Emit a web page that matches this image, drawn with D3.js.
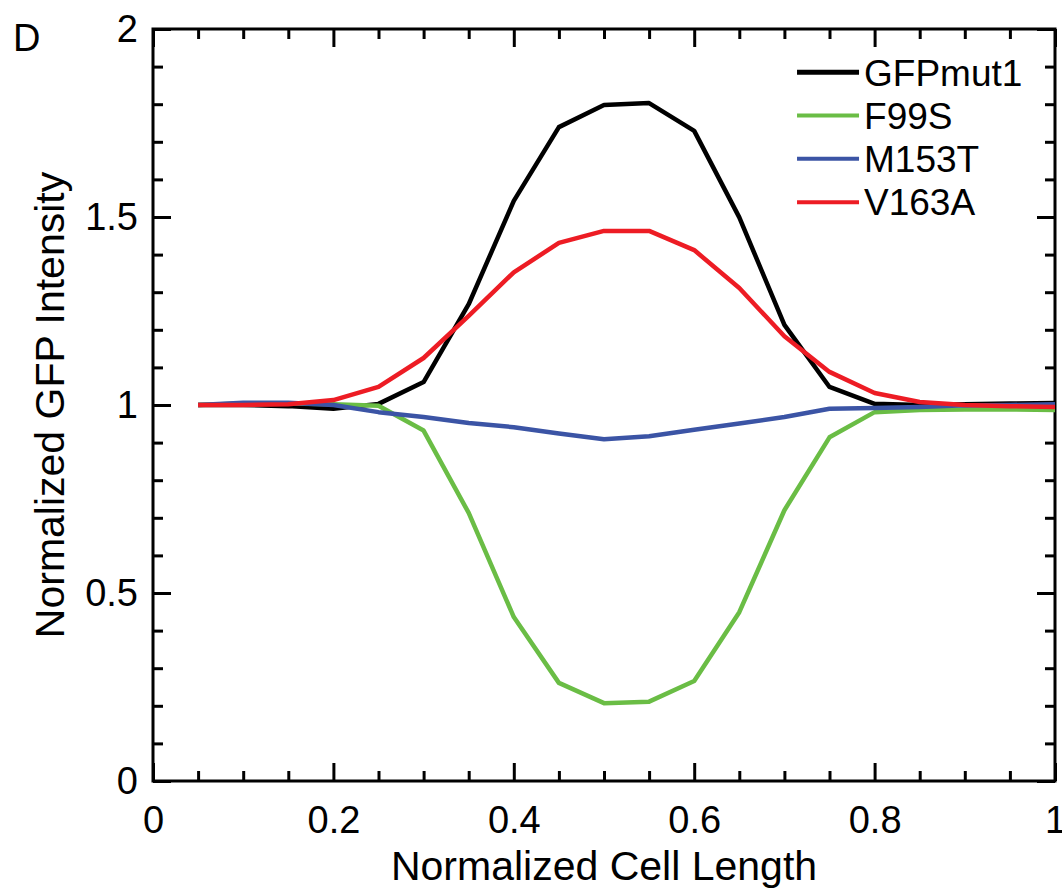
<!DOCTYPE html>
<html>
<head>
<meta charset="utf-8">
<script src="https://cdn.jsdelivr.net/npm/d3@7"></script>
<style>
  body { margin: 0; background: #fff; }
  svg { display: block; font-family: "Liberation Sans", Arial, sans-serif; }
</style>
</head>
<body>
<div id="chart"></div>
<script>
// positions along the cell (0.05 steps)
var cellPos = [0.05, 0.1, 0.15, 0.2, 0.25, 0.3, 0.35, 0.4, 0.45, 0.5,
               0.55, 0.6, 0.65, 0.7, 0.75, 0.8, 0.85, 0.9, 0.95, 1.0]

var gfpmut1 = [1.0, 1.0, 0.997, 0.99, 1.003, 1.061, 1.268, 1.543, 1.739, 1.798,
               1.803, 1.729, 1.499, 1.213, 1.048, 1.003, 1.0, 1.002, 1.004, 1.005]
var f99s    = [1.0, 1.004, 1.004, 1.002, 0.998, 0.932, 0.713, 0.436, 0.261, 0.207,
               0.211, 0.266, 0.449, 0.72, 0.914, 0.981, 0.987, 0.988, 0.988, 0.987]
var m153t   = [1.0, 1.006, 1.006, 1.0, 0.981, 0.968, 0.952, 0.941, 0.924, 0.909,
               0.917, 0.934, 0.951, 0.968, 0.99, 0.992, 0.995, 0.999, 1.0, 1.002]
var v163a   = [1.0, 1.0, 1.002, 1.013, 1.048, 1.125, 1.237, 1.353, 1.431, 1.463,
               1.463, 1.412, 1.311, 1.183, 1.088, 1.032, 1.008, 1.0, 0.997, 0.995]

var seriesNames  = ["GFPmut1", "F99S", "M153T", "V163A"]
var seriesColors = ["#000000", "#6abd45", "#3b54a5", "#ed1c24"]
var seriesValues = [gfpmut1, f99s, m153t, v163a]

var xMajor = [0, 0.2, 0.4, 0.6, 0.8, 1]
var yMajor = [0, 0.5, 1, 1.5, 2]

var svgWidth = 1062, svgHeight = 892
var margin = { top: 29, right: 7, bottom: 111, left: 153 }
var width = svgWidth - margin.left - margin.right
var height = svgHeight - margin.top - margin.bottom

var svg = d3.select("#chart").append("svg")
    .attr("width", svgWidth)
    .attr("height", svgHeight)

var chart = svg.append("g")
    .attr("transform", "translate(" + margin.left + "," + margin.top + ")")

var x = d3.scaleLinear().domain([0, 1]).range([0, width])
var y = d3.scaleLinear().domain([0, 2]).range([height, 0])

var xMinor = d3.range(0, 1.0001, 0.05).filter(function(v) { return Math.abs(v * 5 - Math.round(v * 5)) > 1e-6 })
var yMinor = d3.range(0, 2.0001, 0.1).filter(function(v) { return Math.abs(v * 2 - Math.round(v * 2)) > 1e-6 })

var fmt = function(d) { return d3.format("")(+d.toFixed(2)) }

function styleAxis(g, axis, labels) {
    g.call(axis)
    g.select(".domain").remove()
    g.selectAll("line").attr("stroke", "#000").attr("stroke-width", 3)
    if (labels) {
        g.selectAll("text").attr("fill", "#000").style("font-size", "38px")
    } else {
        g.selectAll("text").remove()
    }
}

// bottom
chart.append("g").attr("transform", "translate(0," + height + ")")
    .call(function(g) { styleAxis(g, d3.axisBottom(x).tickValues(xMajor).tickSizeInner(-18).tickSizeOuter(0).tickPadding(25).tickFormat(fmt), true) })
chart.append("g").attr("transform", "translate(0," + height + ")")
    .call(function(g) { styleAxis(g, d3.axisBottom(x).tickValues(xMinor).tickSizeInner(-10).tickSizeOuter(0), false) })
// top
chart.append("g")
    .call(function(g) { styleAxis(g, d3.axisTop(x).tickValues(xMajor).tickSizeInner(-18).tickSizeOuter(0), false) })
chart.append("g")
    .call(function(g) { styleAxis(g, d3.axisTop(x).tickValues(xMinor).tickSizeInner(-10).tickSizeOuter(0), false) })
// left
chart.append("g")
    .call(function(g) { styleAxis(g, d3.axisLeft(y).tickValues(yMajor).tickSizeInner(-18).tickSizeOuter(0).tickPadding(15).tickFormat(fmt), true) })
chart.append("g")
    .call(function(g) { styleAxis(g, d3.axisLeft(y).tickValues(yMinor).tickSizeInner(-10).tickSizeOuter(0), false) })
// right
chart.append("g").attr("transform", "translate(" + width + ",0)")
    .call(function(g) { styleAxis(g, d3.axisRight(y).tickValues(yMajor).tickSizeInner(-18).tickSizeOuter(0), false) })
chart.append("g").attr("transform", "translate(" + width + ",0)")
    .call(function(g) { styleAxis(g, d3.axisRight(y).tickValues(yMinor).tickSizeInner(-10).tickSizeOuter(0), false) })

// frame
chart.append("rect")
    .attr("x", 0).attr("y", 0)
    .attr("width", width).attr("height", height)
    .attr("fill", "none").attr("stroke", "#000").attr("stroke-width", 3)

// lines
var line = d3.line()
    .x(function(d) { return x(d[0]) })
    .y(function(d) { return y(d[1]) })

seriesValues.forEach(function(vals, i) {
    chart.append("path")
        .datum(cellPos.map(function(p, j) { return [p, vals[j]] }))
        .attr("d", line)
        .attr("fill", "none")
        .attr("stroke", seriesColors[i])
        .attr("stroke-width", 4.5)
        .attr("stroke-linejoin", "round")
})

// legend
var legend = chart.append("g")
    .attr("transform", "translate(" + (x(0.714)) + "," + (y(1.885)) + ")")

seriesNames.forEach(function(name, i) {
    var row = legend.append("g").attr("transform", "translate(0," + (i * 43.3) + ")")
    row.append("line")
        .attr("x1", 0).attr("x2", 62)
        .attr("stroke", seriesColors[i])
        .attr("stroke-width", i == 0 ? 5 : 4)
    row.append("text")
        .attr("x", 67).attr("dy", "0.36em")
        .style("font-size", "37px")
        .text(name)
})

// axis titles
svg.append("text")
    .attr("x", margin.left + width / 2)
    .attr("y", 880)
    .attr("text-anchor", "middle")
    .style("font-size", "41px")
    .text("Normalized Cell Length")

svg.append("text")
    .attr("transform", "translate(64," + (margin.top + height / 2) + ") rotate(-90)")
    .attr("text-anchor", "middle")
    .style("font-size", "41px")
    .text("Normalized GFP Intensity")

// panel letter
svg.append("text")
    .attr("x", 13).attr("y", 51)
    .style("font-size", "38px")
    .text("D")
</script>
</body>
</html>
